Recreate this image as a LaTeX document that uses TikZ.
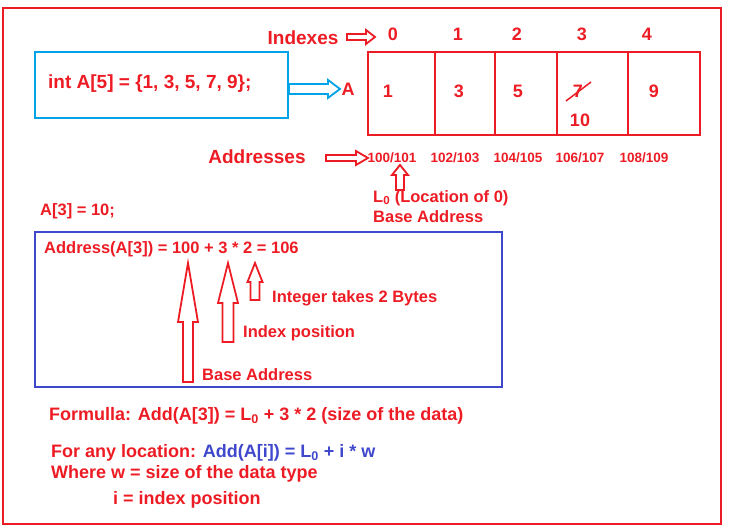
\documentclass[tikz,border=0pt]{standalone}
\usepackage{fontspec}
\setmainfont{Liberation Sans}
\definecolor{rd}{RGB}{237,28,36}
\definecolor{cy}{RGB}{0,162,232}
\definecolor{bl}{RGB}{63,72,204}
\newcommand\uparr[7]{% color,x,tipy,basey,bottomy,shafthalf,headhalf
  \draw[#1,line width=1.8pt,line join=miter,fill=white] ({#2-#6},#5) -- ({#2-#6},#4) -- ({#2-#7},#4) -- (#2,#3) -- ({#2+#7},#4) -- ({#2+#6},#4) -- ({#2+#6},#5) -- cycle;}
\newcommand\rarr[7]{% color,x1,x2,y,headx,shafthalf,headhalf
  \draw[#1,line width=1.8pt,line join=miter,fill=white] (#2,{#4-#6}) -- (#5,{#4-#6}) -- (#5,{#4-#7}) -- (#3,#4) -- (#5,{#4+#7}) -- (#5,{#4+#6}) -- (#2,{#4+#6}) -- cycle;}
\begin{document}
\begin{tikzpicture}[x=1pt,y=-1pt,
  t/.style={text=rd,font=\bfseries\fontsize{16.5}{19}\selectfont,inner sep=0,anchor=west},
  big/.style={text=rd,font=\bfseries\fontsize{18}{21}\selectfont,inner sep=0},
  sm/.style={text=rd,font=\bfseries\fontsize{13.5}{15}\selectfont,inner sep=0}]
\useasboundingbox (0,0) rectangle (729,529);
\draw[rd,line width=2pt] (3,8) rectangle (721,524);
\node[draw=cy,line width=2pt,minimum width=253pt,minimum height=66pt,anchor=north west] (decl) at (34,51) {};
\node[t,font=\bfseries\fontsize{19}{22}\selectfont] (declt) at (48,84) {int A[5] = \{1, 3, 5, 7, 9\};};
\rarr{cy}{289}{340}{89}{328}{5}{9}
\node[big] (A) at (348,89) {A};
\node[draw=rd,line width=2pt,minimum width=332pt,minimum height=83pt,anchor=north west] (arr) at (367,51) {};
\foreach \x in {435,495,557,628} \draw[rd,line width=2pt] (\x,51) -- (\x,134);
\node[big] (v0) at (388,91) {1};
\node[big] (v1) at (459,91) {3};
\node[big] (v2) at (518,91) {5};
\node[big] (v3) at (578,91) {7};
\draw[rd,line width=1.5pt] (566,101) -- (591,82);
\node[big] (v3b) at (580,120) {10};
\node[big] (v4) at (654,91) {9};
\node[big,font=\bfseries\fontsize{19}{22}\selectfont] (idx) at (303,38) {Indexes};
\rarr{rd}{347}{375}{37}{366}{3}{7}
\foreach \i/\x in {0/393,1/458,2/517,3/582,4/647} \node[big] (i\i) at (\x,34) {\i};
\node[big,font=\bfseries\fontsize{19}{22}\selectfont] (addr) at (257,157) {Addresses};
\rarr{rd}{326}{368}{158}{356}{3}{7}
\foreach \a/\x in {0/392,1/455,2/518,3/580,4/644} \node[sm] (a\a) at (\x,158) {\pgfmathparse{int(100+2*\a)}\pgfmathresult/\pgfmathparse{int(101+2*\a)}\pgfmathresult};
\uparr{rd}{400}{165}{175}{190}{4}{8}
\node[t] (l0) at (373,198) {L\textsubscript{0} (Location of 0)};
\node[t] (ba) at (373,217) {Base Address};
\node[t] (a3) at (40,211) {A[3] = 10;};
\node[draw=bl,line width=2pt,minimum width=467pt,minimum height=155pt,anchor=north west] (box) at (34,231) {};
\node[t] (f1) at (44,249) {Address(A[3]) = 100 + 3 * 2 = 106};
\uparr{rd}{188}{263}{322}{382}{5}{10}
\uparr{rd}{228}{263}{303}{342}{5.5}{10}
\uparr{rd}{255}{263}{282}{300}{4.5}{7.5}
\node[t] (it) at (272,298) {Integer takes 2 Bytes};
\node[t] (ip) at (243,333) {Index position};
\node[t] (bb) at (202,375) {Base Address};
\node[t,font=\bfseries\fontsize{18}{21}\selectfont] (fo) at (49,416) {Formulla: Add(A[3]) = L\textsubscript{0} + 3 * 2 (size of the data)};
\node[t,font=\bfseries\fontsize{18}{21}\selectfont] (fa) at (51,453) {For any location: \textcolor{bl}{Add(A[i]) = L\textsubscript{0} + i * w}};
\node[t,font=\bfseries\fontsize{18}{21}\selectfont] (wh) at (51,474) {Where w = size of the data type};
\node[t,font=\bfseries\fontsize{18}{21}\selectfont] (ii) at (113,500) {i = index position};
\end{tikzpicture}
\end{document}
